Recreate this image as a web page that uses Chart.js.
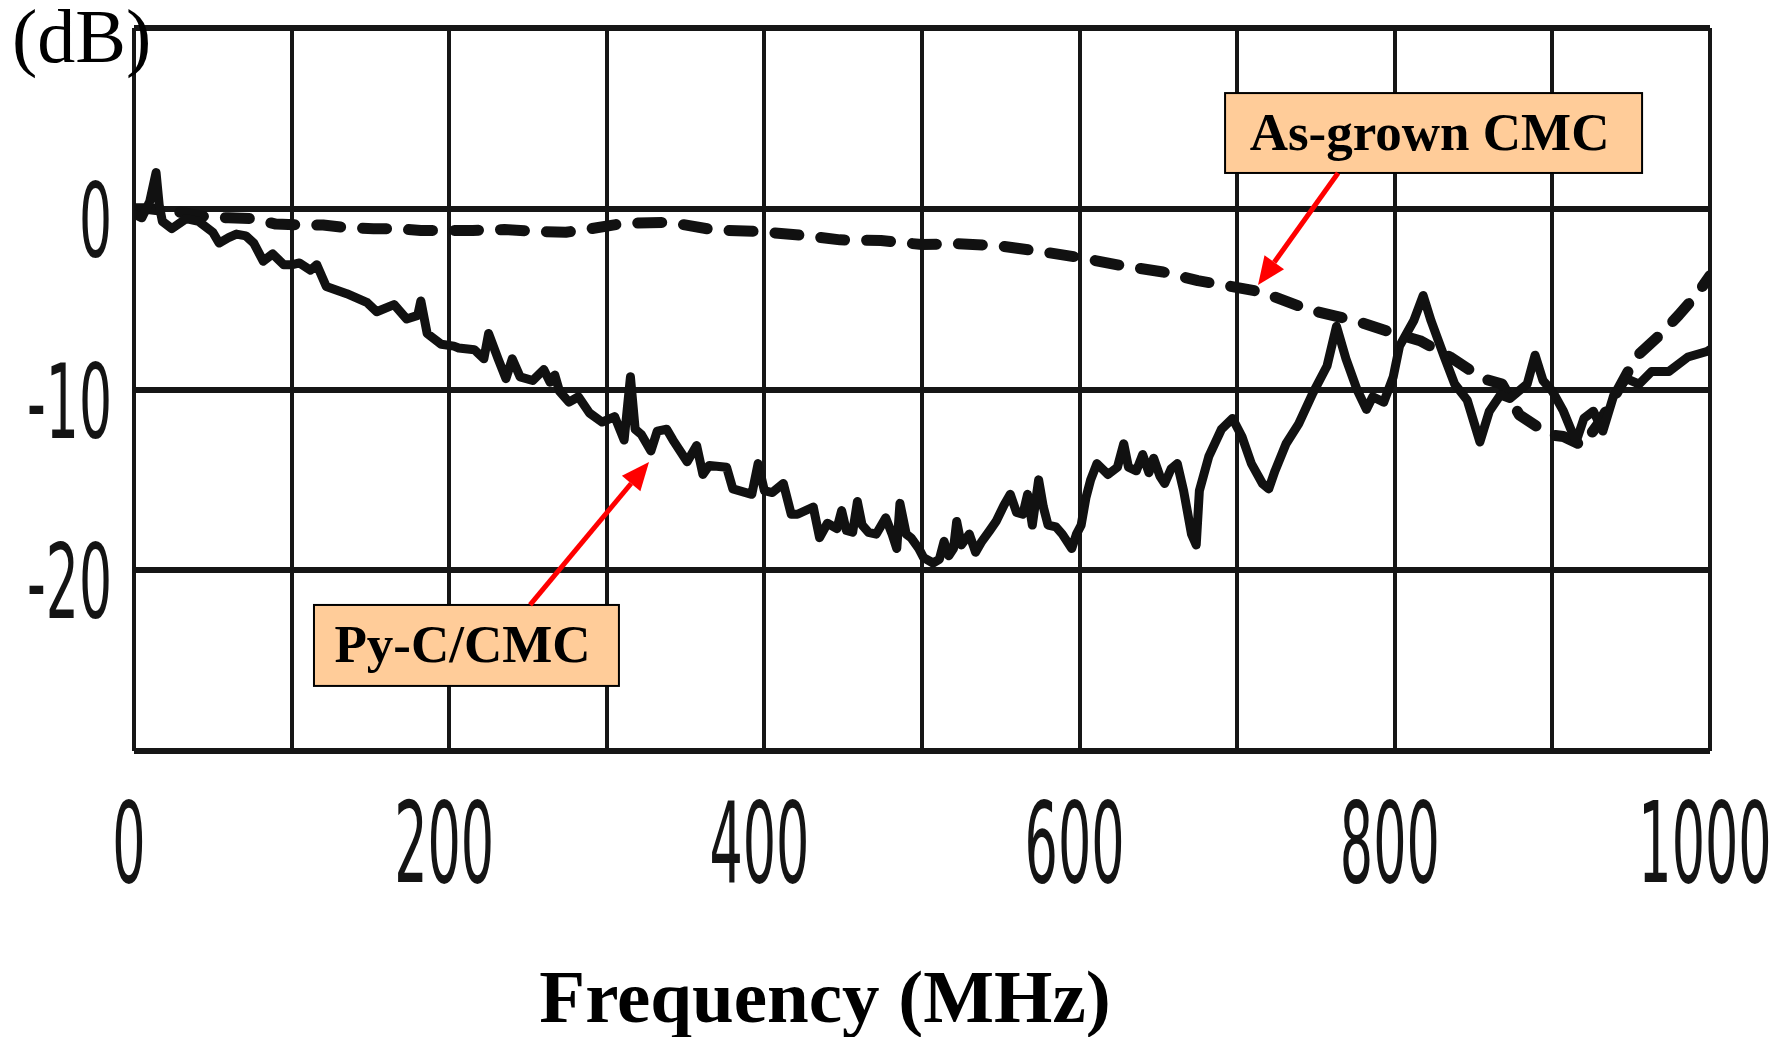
<!DOCTYPE html>
<html>
<head>
<meta charset="utf-8">
<script src="https://cdn.jsdelivr.net/npm/chart.js@4/dist/chart.umd.min.js"></script>
<style>
html,body{margin:0;padding:0;background:#ffffff;}
#wrap{width:1787px;height:1037px;position:relative;}
canvas{display:block;}
</style>
</head>
<body>
<div id="wrap"><canvas id="c" width="1787" height="1037"></canvas></div>
<script>
// ---------- data ----------
const seriesNames = ['Py-C/CMC', 'As-grown CMC'];

const pyFreq = [
  0,5,10,14,16,18,24,33,41,50,
  54,60,65,71,76,82,88,95,100,105,
  112,116,122,135,148,154,165,173,180,182,
  186,195,203,206,216,222,225,231,236,240,
  245,253,260,264,267,270,276,282,289,297,
  305,311,315,318,322,328,332,338,342,351,
  357,361,365,376,380,392,396,400,405,412,
  417,421,431,435,440,446,449,452,456,459,
  462,466,471,477,481,484,486,490,493,498,
  501,507,511,514,517,520,522,525,530,534,
  538,543,547,552,556,560,564,567,570,574,
  577,580,585,589,595,598,601,604,607,611,
  618,624,628,631,636,640,644,647,651,654,
  658,662,666,671,674,676,682,690,697,703,
  709,716,720,724,731,739,748,757,763,769,
  776,782,786,793,799,803,812,818,823,831,
  838,846,854,860,867,873,884,889,894,900,
  907,915,920,926,932,939,947,955,963,974,
  986,998,1000
];
const pyLoss = [
  -0.3,-0.5,0.4,2.0,0.2,-0.7,-1.1,-0.55,-0.7,-1.3,
  -1.9,-1.6,-1.4,-1.5,-1.9,-2.9,-2.5,-3.1,-3.1,-3.0,
  -3.4,-3.1,-4.3,-4.7,-5.2,-5.7,-5.3,-6.1,-5.9,-5.1,
  -6.9,-7.5,-7.6,-7.7,-7.8,-8.3,-6.9,-8.3,-9.4,-8.3,
  -9.3,-9.5,-8.9,-9.6,-9.2,-10.1,-10.7,-10.4,-11.3,-11.8,
  -11.5,-12.8,-9.3,-12.2,-12.5,-13.4,-12.3,-12.2,-12.8,-14.0,
  -13.1,-14.7,-14.2,-14.3,-15.5,-15.8,-14.1,-15.6,-15.7,-15.2,
  -16.9,-16.9,-16.5,-18.2,-17.4,-17.7,-16.7,-17.8,-17.9,-16.2,
  -17.5,-17.9,-18.0,-17.1,-18.0,-18.8,-16.3,-18.0,-18.2,-18.8,
  -19.3,-19.6,-19.4,-18.4,-19.2,-18.8,-17.3,-18.6,-18.0,-19.0,
  -18.4,-17.8,-17.3,-16.4,-15.8,-16.8,-16.9,-15.8,-17.5,-15.0,
  -16.5,-17.5,-17.6,-18.0,-18.8,-18.0,-17.5,-16.0,-15.0,-14.1,
  -14.7,-14.3,-13.0,-14.3,-14.5,-13.6,-14.6,-13.8,-14.8,-15.2,
  -14.4,-14.1,-15.6,-18.0,-18.6,-15.6,-13.7,-12.2,-11.6,-12.6,
  -14.1,-15.2,-15.5,-14.5,-13.0,-11.9,-10.2,-8.7,-6.5,-8.3,
  -10.0,-11.1,-10.4,-10.7,-9.3,-7.6,-6.2,-4.8,-6.2,-8.1,
  -9.7,-10.6,-12.9,-11.2,-10.3,-10.5,-9.7,-8.1,-9.5,-10.1,
  -11.2,-12.9,-11.6,-11.2,-12.3,-10.3,-9.4,-9.7,-9.0,-9.0,
  -8.2,-7.9,-7.8
];

const asFreq = [
  0,10,20,30,46,60,75,90,107,120,
  135,152,165,182,197,215,235,255,274,290,
  311,340,368,397,425,448,474,500,523,548,
  578,600,627,653,675,690,715,746,775,800,
  816,835,856,868,879,898,907,919,930,940,
  953,968,980,992,1000
];
const asLoss = [
  0,0,-0.1,-0.2,-0.45,-0.5,-0.55,-0.85,-0.9,-0.9,
  -1.05,-1.1,-1.1,-1.2,-1.2,-1.2,-1.15,-1.25,-1.3,-1.1,
  -0.8,-0.75,-1.17,-1.26,-1.48,-1.72,-1.76,-1.98,-1.94,-2.04,
  -2.4,-2.7,-3.15,-3.5,-3.98,-4.2,-4.6,-5.6,-6.2,-6.9,
  -7.3,-8.2,-9.4,-9.7,-11.4,-12.5,-12.6,-13.1,-11.8,-10.3,
  -8.2,-7.0,-5.9,-4.7,-3.7
];

const xTickValues = [0, 200, 400, 600, 800, 1000];
const xTickLabels = ['0', '200', '400', '600', '800', '1000'];
const yTickValues = [0, -10, -20];
const yTickLabels = ['0', '-10', '-20'];
const xAxisTitle = 'Frequency (MHz)';
const yAxisUnit = '(dB)';

// ---------- annotations (placed in data units) ----------
const notes = [
  { text: seriesNames[1], box: [692.3, 956.9, 6.40, 1.98], from: [764, 1.98], to: [713.2, -4.22] },
  { text: seriesNames[0], box: [114.2, 307.7, -21.92, -26.40], from: [251.3, -21.92], to: [326.8, -14.01] }
];

const toPts = (xs, ys) => xs.map((x, i) => ({ x: x, y: ys[i] }));

function drawArrow(ctx, x1, y1, x2, y2) {
  const ang = Math.atan2(y2 - y1, x2 - x1);
  const hl = 28, hw = 12;
  const bx = x2 - hl * Math.cos(ang), by = y2 - hl * Math.sin(ang);
  ctx.strokeStyle = '#ff0000';
  ctx.lineWidth = 5;
  ctx.lineCap = 'butt';
  ctx.beginPath(); ctx.moveTo(x1, y1); ctx.lineTo(bx, by); ctx.stroke();
  ctx.fillStyle = '#ff0000';
  ctx.beginPath();
  ctx.moveTo(x2, y2);
  ctx.lineTo(bx + hw * Math.sin(ang), by - hw * Math.cos(ang));
  ctx.lineTo(bx - hw * Math.sin(ang), by + hw * Math.cos(ang));
  ctx.closePath(); ctx.fill();
}

const textPlugin = {
  id: 'textPlugin',
  afterDraw(chart) {
    const ctx = chart.ctx, xs = chart.scales.x, ys = chart.scales.y, ca = chart.chartArea;
    ctx.save();
    ctx.fillStyle = '#141414';
    // x tick labels (narrow, tall digits)
    ctx.font = '112px "DejaVu Sans"';
    ctx.textAlign = 'center';
    ctx.textBaseline = 'alphabetic';
    xTickValues.forEach((v, i) => {
      const px = xs.getPixelForValue(v) - 5;
      ctx.save();
      ctx.translate(px, ca.bottom + 131);
      ctx.scale(0.468, 1);
      ctx.fillText(xTickLabels[i], 0, 0);
      ctx.restore();
    });
    // y tick labels
    ctx.font = '104px "DejaVu Sans"';
    ctx.textAlign = 'right';
    yTickValues.forEach((v, i) => {
      const py = ys.getPixelForValue(v);
      ctx.save();
      ctx.translate(ca.left - 22, py + 48);
      ctx.scale(0.5, 1);
      ctx.fillText(yTickLabels[i], 0, 0);
      ctx.restore();
    });
    // unit label
    ctx.fillStyle = '#000000';
    ctx.font = '76px "Liberation Serif"';
    ctx.textAlign = 'left';
    ctx.fillText(yAxisUnit, 12, 62);
    // x axis title
    ctx.font = 'bold 75px "Liberation Serif"';
    ctx.textAlign = 'center';
    ctx.fillText(xAxisTitle, ca.left + 691, 1022);
    // annotation boxes and arrows
    notes.forEach(n => {
      const l = xs.getPixelForValue(n.box[0]), r = xs.getPixelForValue(n.box[1]);
      const t = ys.getPixelForValue(n.box[2]), b = ys.getPixelForValue(n.box[3]);
      ctx.fillStyle = '#FFCC99';
      ctx.fillRect(l, t, r - l, b - t);
      ctx.strokeStyle = '#000000';
      ctx.lineWidth = 2;
      ctx.strokeRect(l, t, r - l, b - t);
      ctx.fillStyle = '#000000';
      ctx.font = 'bold 53px "Liberation Serif"';
      ctx.textAlign = 'center';
      ctx.fillText(n.text, (l + r) / 2 - 4, t + 57);
      drawArrow(ctx,
        xs.getPixelForValue(n.from[0]), ys.getPixelForValue(n.from[1]),
        xs.getPixelForValue(n.to[0]), ys.getPixelForValue(n.to[1]));
    });
    ctx.restore();
  }
};

new Chart(document.getElementById('c'), {
  type: 'line',
  data: {
    datasets: [
      {
        label: seriesNames[0],
        data: toPts(pyFreq, pyLoss),
        borderColor: '#111111',
        borderWidth: 9,
        pointRadius: 0,
        tension: 0,
        fill: false,
        borderJoinStyle: 'round',
        borderCapStyle: 'round'
      },
      {
        label: seriesNames[1],
        data: toPts(asFreq, asLoss),
        borderColor: '#111111',
        borderWidth: 11,
        borderDash: [24, 22],
        borderCapStyle: 'round',
        borderJoinStyle: 'round',
        pointRadius: 0,
        tension: 0,
        fill: false
      }
    ]
  },
  options: {
    responsive: false,
    animation: false,
    devicePixelRatio: 1,
    layout: { padding: { left: 134, right: 77, top: 28, bottom: 286 } },
    plugins: { legend: { display: false }, tooltip: { enabled: false }, title: { display: false } },
    scales: {
      x: {
        type: 'linear', min: 0, max: 1000,
        ticks: { stepSize: 100, display: false },
        grid: { color: '#161616', lineWidth: 4, drawTicks: false },
        border: { display: false }
      },
      y: {
        type: 'linear', min: -30, max: 10,
        ticks: { stepSize: 10, display: false },
        grid: { color: '#161616', lineWidth: 6, drawTicks: false },
        border: { display: false }
      }
    }
  },
  plugins: [textPlugin]
});
</script>
</body>
</html>
